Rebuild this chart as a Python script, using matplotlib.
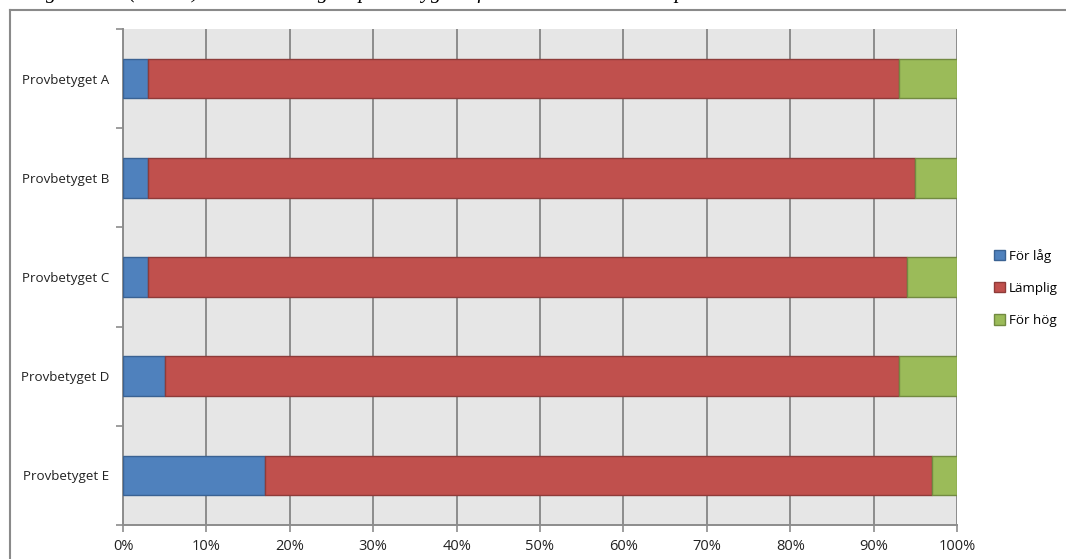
import matplotlib
matplotlib.use("Agg")
import matplotlib.pyplot as plt
import numpy as np
from matplotlib.lines import Line2D

# Andel (%) per provbetyg
categories = ["Provbetyget A", "Provbetyget B", "Provbetyget C", "Provbetyget D", "Provbetyget E"]
for_lag = [3, 3, 3, 5, 17]
lamplig = [90, 92, 91, 88, 80]
for_hog = [7, 5, 6, 7, 3]
series_names = ["För låg", "Lämplig", "För hög"]

BLUE, BLUE_EDGE = "#4F81BD", "#3A6293"
RED, RED_EDGE = "#C0504D", "#8E3B39"
GREEN, GREEN_EDGE = "#9BBB59", "#728A41"
GRID = "#8C8C8C"

plt.rcParams["font.family"] = ["Open Sans", "DejaVu Sans"]

fig = plt.figure(figsize=(10.66, 5.59), dpi=100)
ax = fig.add_axes([123 / 1066, 1 - 525 / 559, 834 / 1066, 496 / 559])
ax.set_facecolor("#E6E6E6")

y = np.arange(len(categories))
left = np.zeros(len(categories))
for vals, name, col, ec in zip([for_lag, lamplig, for_hog], series_names,
                               [BLUE, RED, GREEN], [BLUE_EDGE, RED_EDGE, GREEN_EDGE]):
    ax.barh(y, vals, left=left, height=0.4, color=col, edgecolor=ec,
            linewidth=1.0, label=name, zorder=3)
    left += np.array(vals)

ax.set_xlim(0, 100)
ax.set_ylim(len(categories) - 0.5, -0.5)
ax.set_xticks(np.arange(0, 101, 10))
ax.set_xticklabels([f"{v}%" for v in range(0, 101, 10)], fontsize=10.5, color="#222222")
ax.set_yticks(y)
ax.set_yticklabels(categories, fontsize=9.6, color="#222222")
ax.set_yticks(np.arange(-0.5, len(categories), 1), minor=True)
ax.tick_params(axis="y", which="major", length=0, pad=10)
ax.tick_params(axis="y", which="minor", length=5, color=GRID, width=1.2)
ax.tick_params(axis="x", length=5, color=GRID, width=1.2, pad=5)

ax.grid(axis="x", color=GRID, linewidth=1.4, zorder=1)
ax.set_axisbelow(True)
for side in ["top", "right"]:
    ax.spines[side].set_visible(False)
for side in ["left", "bottom"]:
    ax.spines[side].set_color(GRID)
    ax.spines[side].set_linewidth(1.4)

leg = ax.legend(loc="center left", bbox_to_anchor=(1.03, 0.478), frameon=False,
                fontsize=9.6, handlelength=0.8, handleheight=0.8, handletextpad=0.3,
                labelspacing=1.45)

# ram runt diagrammet
fig.add_artist(Line2D([10 / 1066, 1.0], [1 - 10 / 559, 1 - 10 / 559],
                      transform=fig.transFigure, color="#8A8A8A", linewidth=1.5))
fig.add_artist(Line2D([10 / 1066, 10 / 1066], [0.0, 1 - 10 / 559],
                      transform=fig.transFigure, color="#8A8A8A", linewidth=1.5))

# rubrikrad ovanför (avskuren)
fig.text(-0.005, 1 + 2 / 559, "samtliga lärare (n=356) om bedömning av provbetygen i förhållande till elevens prestation",
         family="Liberation Serif", style="italic", fontsize=15, va="baseline", ha="left")

fig.savefig("out.png", dpi=100)
